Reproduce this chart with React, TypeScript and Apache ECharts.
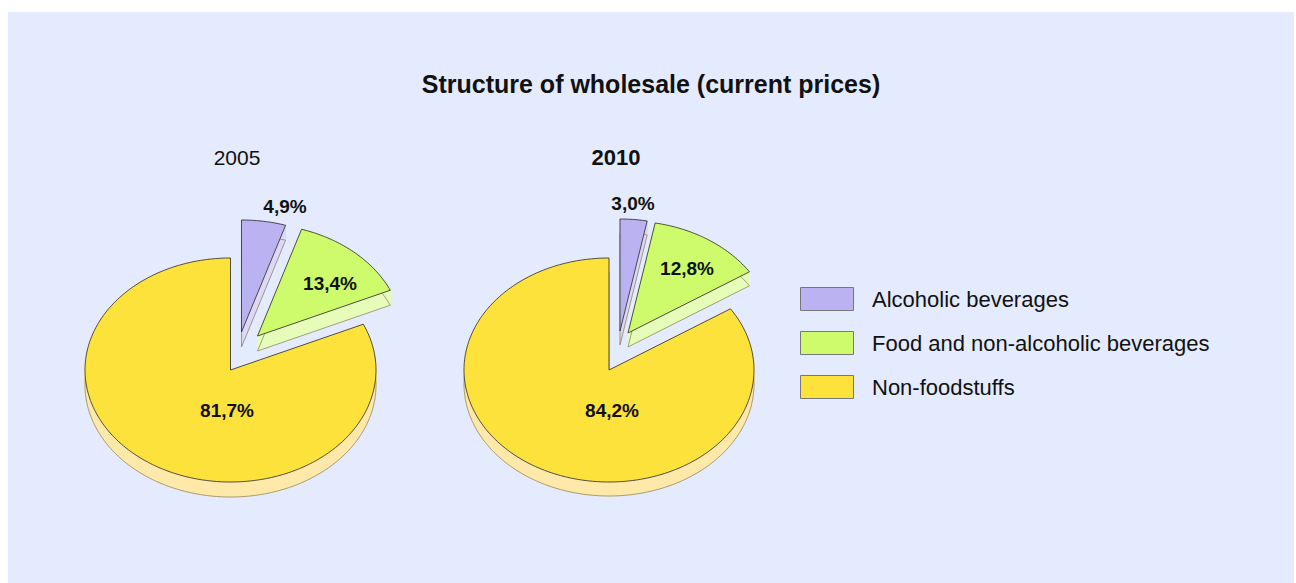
import React, { useEffect, useRef } from "react";
import * as echarts from "echarts";

const TITLE = "Structure of wholesale (current prices)";
const CATEGORIES = ["Alcoholic beverages", "Food and non-alcoholic beverages", "Non-foodstuffs"];
const YEARS = ["2005", "2010"];
const VALUES_2005 = [4.9, 13.4, 81.7];
const VALUES_2010 = [3.0, 12.8, 84.2];
const VALUES = [VALUES_2005, VALUES_2010];

// styles
const TOP_COLORS = ["#BBB3F1", "#CDFB6B", "#FEE23C"];
const SIDE_COLORS = ["#DCD8F6", "#E6FDB9", "#FFE9A8"];
const BG = "#E5EBFE";
const FONT = "'Liberation Sans', Arial, Helvetica, sans-serif";

// layout (chart pixel coords)
const PIE_LAYOUT = [
  {
    cx: 222.5, cy: 358, rx: 145.5, ry: 112, depth: 15,
    explode: [[11, -38], [27, -34], [0, 0]],
    label: [[54.5, -164], [99.5, -86.5], [-3.5, 40]],
    yearPos: [229, 145.5], yearBold: false,
  },
  {
    cx: 601, cy: 358, rx: 145, ry: 112, depth: 14,
    explode: [[11, -39], [19, -37], [0, 0]],
    label: [[24, -167], [78, -102], [3, 40]],
    yearPos: [608, 145.5], yearBold: true,
  },
];

function fmt(v: number) {
  return v.toFixed(1).replace(".", ",") + "%";
}

function ellPt(cx: number, cy: number, rx: number, ry: number, deg: number) {
  const t = (deg * Math.PI) / 180;
  return [cx + rx * Math.sin(t), cy - ry * Math.cos(t)];
}

function makeRenderItem(k: number) {
  return (params: any, api: any) => {
    const i = params.dataIndex;
    const vals = VALUES[k];
    const total = vals.reduce((a, b) => a + b, 0);
    let before = 0;
    for (let j = 0; j < i; j++) before += vals[j];
    const v = api.value(0);
    const start = (before / total) * 360;
    const end = start + (v / total) * 360;
    const L = PIE_LAYOUT[k];
    const [ex, ey] = L.explode[i];
    const cx = L.cx + ex;
    const cy = L.cy + ey;
    const d = L.depth;
    const pts: number[][] = [[cx, cy]];
    const n = Math.max(2, Math.ceil(end - start));
    for (let j = 0; j <= n; j++) {
      pts.push(ellPt(cx, cy, L.rx, L.ry, start + ((end - start) * j) / n));
    }
    const children: any[] = [];
    for (let j = 0; j < pts.length; j++) {
      const a = pts[j];
      const b = pts[(j + 1) % pts.length];
      children.push({
        type: "polygon",
        shape: { points: [a, b, [b[0], b[1] + d], [a[0], a[1] + d]] },
        style: { fill: SIDE_COLORS[i], stroke: SIDE_COLORS[i], lineWidth: 0.8 },
      });
    }
    children.push({
      type: "polygon",
      shape: { points: pts.map((p) => [p[0], p[1] + d]) },
      style: { fill: "none", stroke: "#8f8668", lineWidth: 0.8 },
    });
    children.push({
      type: "polygon",
      shape: { points: pts },
      style: { fill: TOP_COLORS[i], stroke: "#3a3a3a", lineWidth: 0.9 },
    });
    children.push({
      type: "text",
      x: L.cx + L.label[i][0],
      y: L.cy + L.label[i][1],
      style: {
        text: fmt(v),
        fill: "#111",
        fontSize: 19,
        fontWeight: "bold",
        fontFamily: FONT,
        align: "center",
        verticalAlign: "middle",
      },
    });
    return { type: "group", children };
  };
}

export default function App() {
  const ref = useRef<HTMLDivElement>(null);
  useEffect(() => {
    if (!ref.current) return;
    const chart = echarts.init(ref.current, undefined, { renderer: "svg" });
    const graphics: any[] = [
      {
        type: "text",
        x: 643,
        y: 72,
        style: {
          text: TITLE,
          fill: "#111",
          fontSize: 25,
          fontWeight: "bold",
          fontFamily: FONT,
          align: "center",
          verticalAlign: "middle",
        },
      },
    ];
    YEARS.forEach((y, k) => {
      const L = PIE_LAYOUT[k];
      graphics.push({
        type: "text",
        x: L.yearPos[0],
        y: L.yearPos[1],
        style: {
          text: y,
          fill: "#111",
          fontSize: L.yearBold ? 22 : 21,
          fontWeight: L.yearBold ? "bold" : "normal",
          fontFamily: FONT,
          align: "center",
          verticalAlign: "middle",
        },
      });
    });
    CATEGORIES.forEach((c, i) => {
      graphics.push({
        type: "rect",
        shape: { x: 792.5, y: 275.5 + i * 44, width: 53, height: 23 },
        style: { fill: TOP_COLORS[i], stroke: "#777", lineWidth: 1 },
      });
      graphics.push({
        type: "text",
        x: 864,
        y: 287 + i * 44,
        style: {
          text: c,
          fill: "#111",
          fontSize: 22,
          fontFamily: FONT,
          align: "left",
          verticalAlign: "middle",
        },
      });
    });
    chart.setOption({
      animation: false,
      backgroundColor: BG,
      graphic: graphics,
      series: YEARS.map((y, k) => ({
        type: "custom",
        name: y,
        coordinateSystem: "none",
        silent: true,
        renderItem: makeRenderItem(k),
        data: VALUES[k].map((v, i) => ({ value: [v], name: CATEGORIES[i] })),
      })),
    });
    return () => chart.dispose();
  }, []);
  return (
    <div
      ref={ref}
      style={{ width: 1286, height: 571, position: "absolute", left: 8, top: 12 }}
    />
  );
}
